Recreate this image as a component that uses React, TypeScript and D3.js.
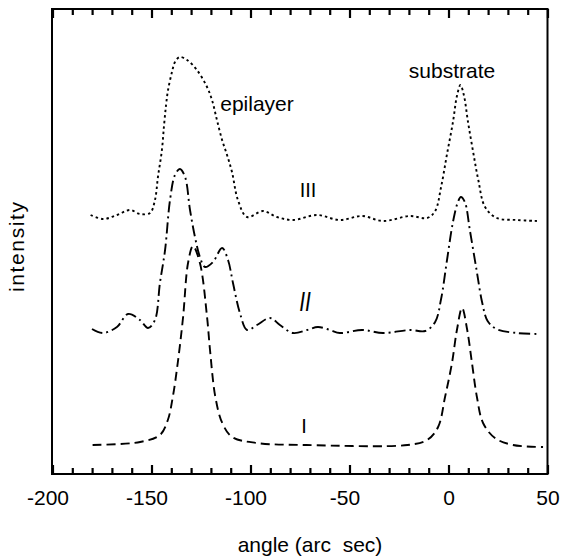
import React from 'react'
import * as d3 from 'd3'

// rocking curves, [angle (arc sec), intensity (arb. units, offset per curve)]
const curveI: [number, number][] = [
  [-180, 29], [-156, 32], [-146, 39], [-142, 54], [-139.5, 77], [-137, 111],
  [-134.3, 157], [-131.8, 211], [-129.3, 228], [-125.8, 211], [-122.2, 157],
  [-120.7, 124], [-118, 77], [-114.5, 51], [-109.5, 37], [-97, 31], [-72, 29],
  [-21, 29], [-11, 34], [-5.5, 47], [-2, 77], [1.5, 111], [4, 144], [6.6, 166],
  [9.2, 144], [11.6, 111], [14.1, 77], [17.2, 51], [23.2, 36], [32.3, 29], [47.5, 27],
]

const curveII: [number, number][] = [
  [-180.3, 145], [-174.7, 141], [-167.7, 147], [-162.1, 160], [-156.1, 154],
  [-152, 146], [-148.5, 154], [-146, 191], [-143.4, 224], [-140.9, 274],
  [-138.4, 299], [-135.9, 305], [-133.3, 297], [-130.8, 264], [-128.3, 237],
  [-125.8, 217], [-123.2, 207], [-119.2, 212], [-114.6, 226], [-111.6, 214],
  [-109.1, 191], [-105.6, 161], [-102, 144], [-97, 149], [-90.4, 156],
  [-85.4, 149], [-78.8, 141], [-71.7, 144], [-66.2, 147], [-60.1, 144],
  [-55.1, 141], [-43.9, 144], [-33.3, 141], [-19.7, 144], [-12, 143],
  [-7, 152], [-4, 175], [-1, 214], [2, 252], [4.5, 272], [6, 277], [8, 272],
  [10.6, 243], [14, 203], [16.7, 172], [19.5, 153], [24, 145], [34.3, 141],
  [46, 140],
]

const curveIII: [number, number][] = [
  [-181, 259], [-174.7, 255], [-167.7, 259], [-161.1, 264], [-156.1, 260],
  [-151, 261], [-148.5, 274], [-147, 297], [-145, 324], [-143.9, 349],
  [-142.9, 369], [-141.9, 384], [-139.9, 402], [-138.4, 412], [-135.9, 417],
  [-132.3, 414], [-127.3, 404], [-122.2, 387], [-119.7, 374], [-117.2, 354],
  [-114.6, 334], [-112.1, 319], [-109.6, 302], [-106.6, 274], [-102, 257],
  [-93.9, 263], [-86.9, 257], [-78.8, 254], [-66.7, 259], [-55.1, 254],
  [-43.9, 258], [-33.3, 253], [-19.7, 258], [-11, 256], [-7, 263],
  [-4, 287], [-1, 320], [2, 352], [4, 378], [5.8, 389], [7.6, 378],
  [9.6, 352], [12.2, 322], [14.8, 294], [18.2, 267], [24.2, 256],
  [34.3, 254], [44.4, 253],
]

const xMajorTicks = [-200, -150, -100, -50, 0, 50]
const xMinorTicks = d3.range(-190, 50, 10).filter(v => v % 50 !== 0)
const curveNames = ['I', 'II', 'III']
const peakNames = ['epilayer', 'substrate']

const W = 561
const H = 558
const font = '"Liberation Sans", Arial, Helvetica, sans-serif'

export default function App() {
  const left = 52, right = 547.5, top = 9, bottom = 474

  const x = d3.scaleLinear().domain([-200, 50]).range([53, 548])
  const y = d3.scaleLinear().domain([0, 465]).range([bottom, top])

  const line = d3.line<[number, number]>()
    .x(d => x(d[0]))
    .y(d => y(d[1]))
    .curve(d3.curveCatmullRom.alpha(0.5))

  const series = [
    { data: curveI, dash: '9 5' },
    { data: curveII, dash: '11 4 2 4' },
    { data: curveIII, dash: '2.5 3' },
  ]

  const ticks = [
    ...xMajorTicks.map(v => ({ v, len: 9 })),
    ...xMinorTicks.map(v => ({ v, len: 6 })),
  ]

  return (
    <svg width={W} height={H} style={{ position: 'absolute', left: 0, top: 0, background: '#fff' }}>
      <rect x={left} y={top} width={right - left} height={bottom - top}
        fill="none" stroke="#000" strokeWidth={2} />

      {/* inward ticks, bottom and top */}
      {ticks.map(t => (
        <line key={'b' + t.v} x1={x(t.v)} x2={x(t.v)} y1={bottom} y2={bottom - t.len}
          stroke="#000" strokeWidth={2.2} />
      ))}
      {ticks.map(t => (
        <line key={'t' + t.v} x1={x(t.v)} x2={x(t.v)} y1={top} y2={top + t.len}
          stroke="#000" strokeWidth={2.2} />
      ))}

      {xMajorTicks.map(v => (
        <text key={'l' + v} x={x(v) - (v < 0 ? 5 : 0)} y={505} textAnchor="middle"
          fontFamily={font} fontSize={21}>{v}</text>
      ))}

      <text x={310} y={552} textAnchor="middle" fontFamily={font} fontSize={21}
        style={{ whiteSpace: 'pre' }}>{'angle (arc  sec)'}</text>
      <text transform="translate(24,247) rotate(-90)" textAnchor="middle" fontFamily={font}
        fontSize={21} textLength={90}>intensity</text>

      {series.map((s, i) => (
        <path key={i} d={line(s.data) || ''} fill="none" stroke="#000"
          strokeWidth={1.9} strokeDasharray={s.dash} />
      ))}

      <text x={257} y={111} textAnchor="middle" fontFamily={font} fontSize={21}>{peakNames[0]}</text>
      <text x={452} y={78} textAnchor="middle" fontFamily={font} fontSize={21}>{peakNames[1]}</text>

      <text x={308} y={197} textAnchor="middle" fontFamily={font} fontSize={20}>{curveNames[2]}</text>
      <text transform="translate(305,311) scale(1,1.35)" textAnchor="middle" fontFamily={font}
        fontSize={21} fontStyle="italic">{curveNames[1]}</text>
      <text x={304} y={433} textAnchor="middle" fontFamily={font} fontSize={20}>{curveNames[0]}</text>
    </svg>
  )
}
